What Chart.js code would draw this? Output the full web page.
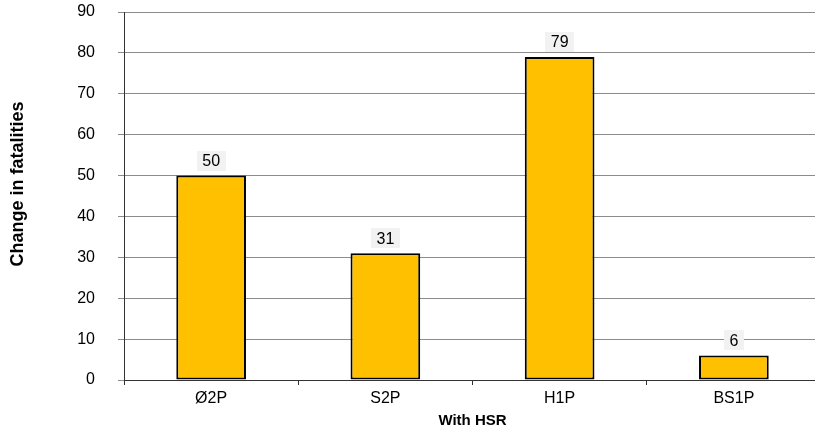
<!DOCTYPE html>
<html>
<head>
<meta charset="utf-8">
<script src="https://cdn.jsdelivr.net/npm/chart.js@4/dist/chart.umd.min.js"></script>
<style>
  html, body { margin: 0; padding: 0; background: #fff; overflow: hidden; }
  #wrap { width: 815px; height: 429px; overflow: hidden; }
  canvas { display: block; }
</style>
</head>
<body>
<div id="wrap"><canvas id="chart" width="822" height="429"></canvas></div>
<script>
// Scenario categories and the change in fatalities for each
const categories = ['Ø2P', 'S2P', 'H1P', 'BS1P'];
const fatalityChange = [50, 31, 79, 6];
const yTicks = [0, 10, 20, 30, 40, 50, 60, 70, 80, 90];
const xTitle = 'With HSR';
const yTitle = 'Change in fatalities';

const FONT = '"Liberation Sans", Arial, sans-serif';

// Value boxes above each bar
const valueLabels = {
  id: 'valueLabels',
  afterDatasetsDraw(chart) {
    const ctx = chart.ctx;
    const meta = chart.getDatasetMeta(0);
    ctx.save();
    ctx.font = '16px ' + FONT;
    ctx.textAlign = 'center';
    ctx.textBaseline = 'middle';
    meta.data.forEach((bar, i) => {
      const txt = String(chart.data.datasets[0].data[i]);
      const w = ctx.measureText(txt).width + 11;
      const h = 20;
      const bottom = bar.y - 5;
      ctx.fillStyle = '#F2F2F2';
      ctx.fillRect(Math.round(bar.x - w / 2), Math.round(bottom - h), Math.round(w), h);
      ctx.fillStyle = '#000';
      ctx.fillText(txt, bar.x, bottom - h / 2 + 1);
    });
    ctx.restore();
  }
};

// Axis titles
const axisTitles = {
  id: 'axisTitles',
  afterDraw(chart) {
    const ctx = chart.ctx;
    const area = chart.chartArea;
    ctx.save();
    ctx.fillStyle = '#000';
    ctx.textAlign = 'center';
    ctx.textBaseline = 'middle';
    ctx.font = 'bold 15px ' + FONT;
    ctx.fillText(xTitle, (area.left + area.right) / 2, 421);
    ctx.font = 'bold 18px ' + FONT;
    ctx.translate(18, 184);
    ctx.rotate(-Math.PI / 2);
    ctx.fillText(yTitle, 0, 0);
    ctx.restore();
  }
};

new Chart(document.getElementById('chart'), {
  type: 'bar',
  data: {
    labels: categories,
    datasets: [{
      data: fatalityChange,
      backgroundColor: '#FFC000',
      borderColor: '#000',
      borderWidth: 2,
      borderSkipped: false,
      barPercentage: 0.4,
      categoryPercentage: 1.0
    }]
  },
  options: {
    responsive: false,
    animation: false,
    devicePixelRatio: 1,
    layout: { padding: { top: 12, right: 1, bottom: 0, left: 0 } },
    plugins: { legend: { display: false }, tooltip: { enabled: false } },
    scales: {
      x: {
        offset: true,
        grid: { offset: true, drawOnChartArea: false, tickLength: 5, color: '#333', lineWidth: 1 },
        border: { color: '#333', width: 1 },
        ticks: { color: '#000', font: { family: FONT, size: 16 }, padding: 4, maxRotation: 0 },
        afterFit(scale) { scale.height = 49; }
      },
      y: {
        min: 0,
        max: 90,
        afterBuildTicks(scale) { scale.ticks = yTicks.map(v => ({ value: v })); },
        grid: { color: '#8C8C8C', lineWidth: 1, tickLength: 6 },
        border: { color: '#333', width: 1 },
        ticks: { color: '#000', font: { family: FONT, size: 16 }, padding: 23 },
        afterFit(scale) {
          scale.width = 124;
          scale.paddingTop = 8;
          scale.paddingBottom = 8;
        }
      }
    }
  },
  plugins: [valueLabels, axisTitles]
});
</script>
</body>
</html>
